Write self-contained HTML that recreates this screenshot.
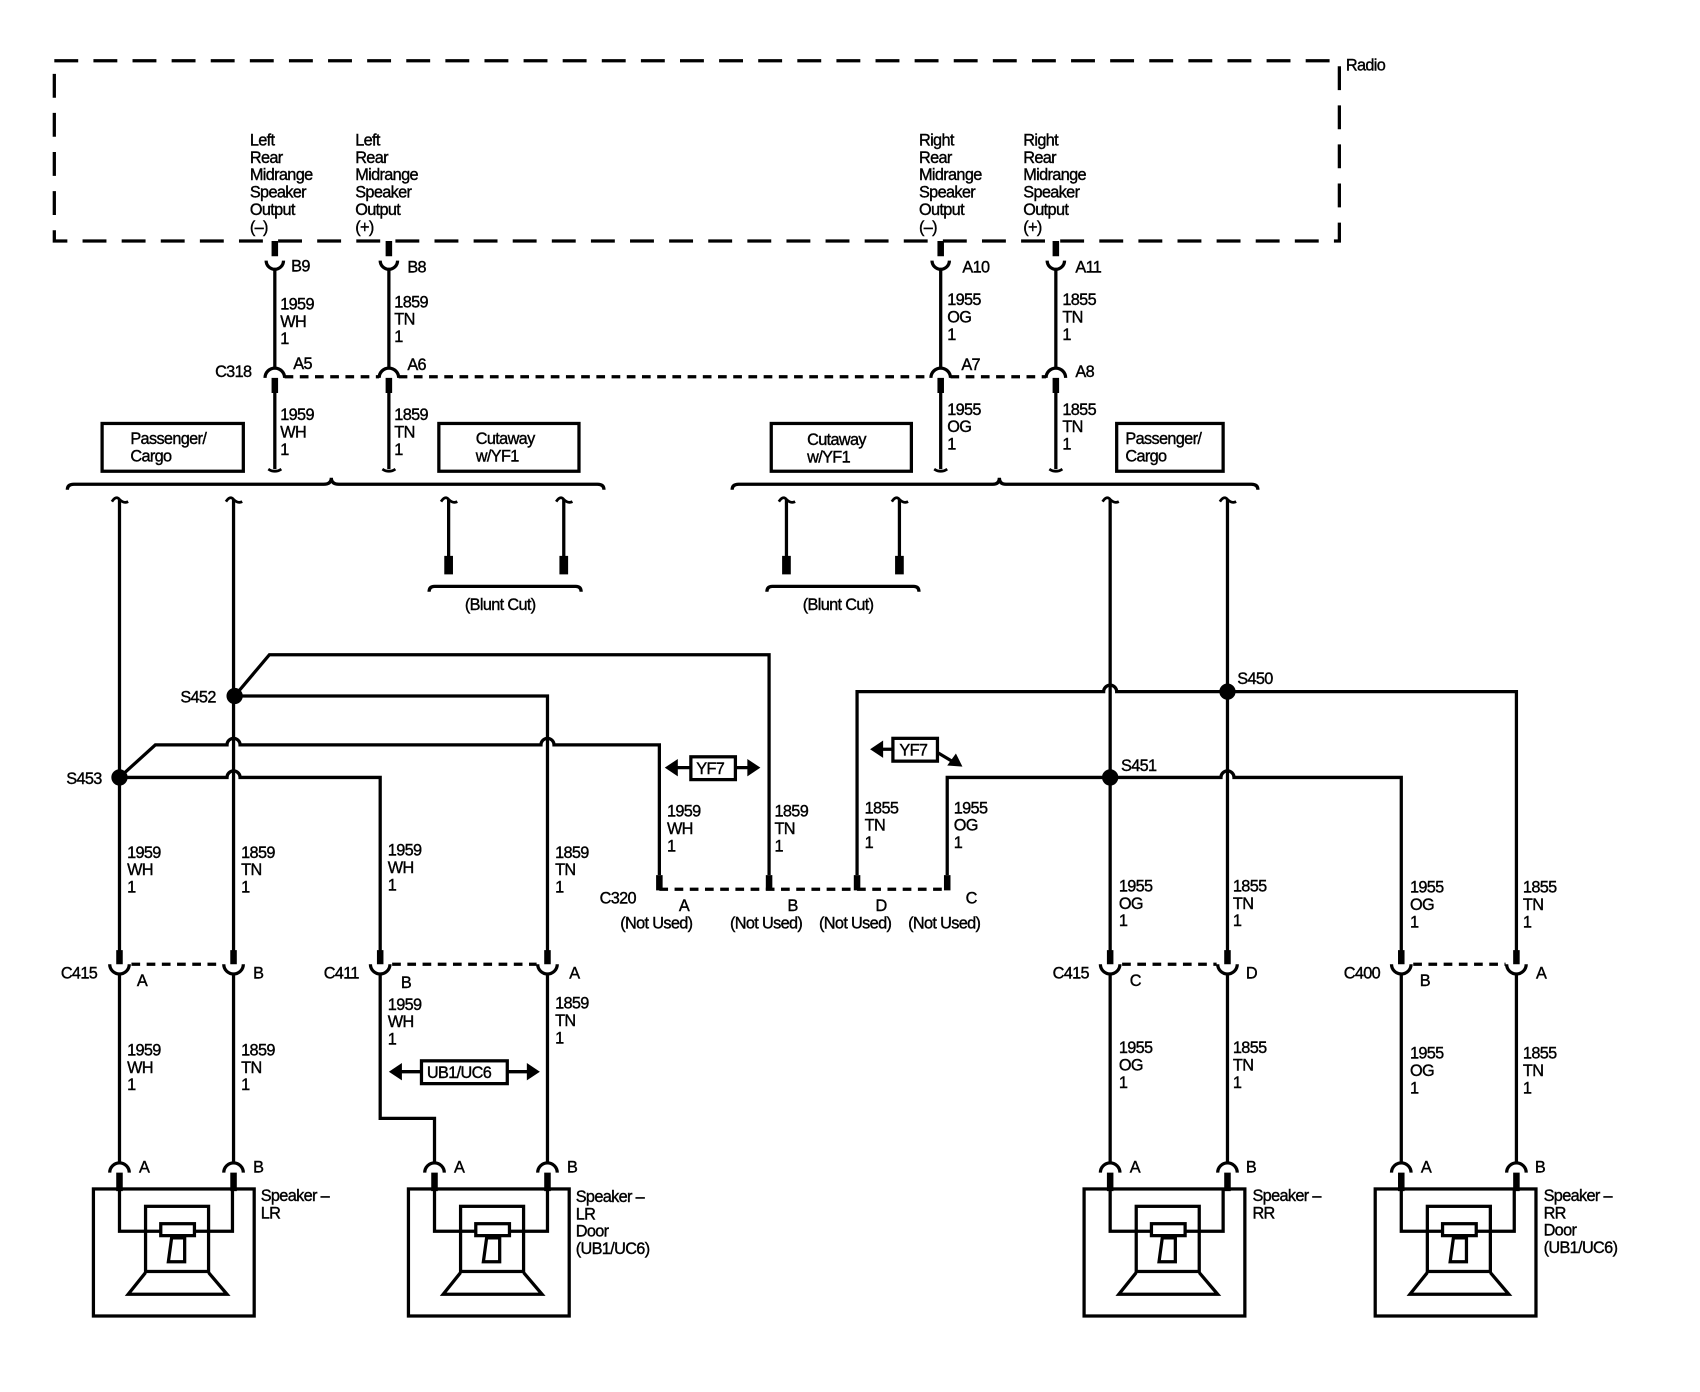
<!DOCTYPE html>
<html><head><meta charset="utf-8"><style>
html,body{margin:0;padding:0;background:#fff;}
svg{display:block;}
text{font-family:"Liberation Sans",Arial,sans-serif;font-size:15px;fill:#000;stroke:#000;stroke-width:0.35;letter-spacing:-0.6px;}
</style></head><body>
<svg width="1700" height="1392" viewBox="0 0 1565 1282" preserveAspectRatio="none" xmlns="http://www.w3.org/2000/svg">
<defs>
<g id="spk" fill="none" stroke="#000" stroke-width="3">
<rect x="0" y="0" width="148" height="117"/>
<path d="M24 0 V39 H128 V0" />
<rect x="48" y="16" width="58" height="60"/>
<rect x="62" y="32" width="31" height="11" fill="#fff"/>
<path d="M72 45 H84 V67 H69 Z"/>
<path d="M48 77 L32 97 H123 L106 77"/>
</g>
<marker id="ah" markerWidth="8" markerHeight="8" refX="4" refY="4" orient="auto"><path d="M0 0 L8 4 L0 8 Z" fill="#000"/></marker>
</defs>
<g fill="none" stroke="#000" stroke-width="3">
<!-- radio box -->
<rect x="50" y="56" width="1183" height="166" stroke-dasharray="22,14"/>
<!-- top pins -->
<g id="tp">
</g>
<path d="M253 222V236 M358 222V236 M866 222V236 M972 222V236" stroke-width="6"/>
<path d="M245 240 A8 8 0 0 0 261 240 M350 240 A8 8 0 0 0 366 240 M858 240 A8 8 0 0 0 874 240 M964 240 A8 8 0 0 0 980 240"/>
<path d="M253 248V339 M358 248V339 M866 248V339 M972 248V339"/>
<path d="M244 348 A9 9 0 0 1 262 348 M349 348 A9 9 0 0 1 367 348 M857 348 A9 9 0 0 1 875 348 M963 348 A9 9 0 0 1 981 348"/>
<path d="M253 348V362 M358 348V362 M866 348V362 M972 348V362" stroke-width="6"/>
<path d="M262 347H349 M367 347H857 M875 347H963" stroke-dasharray="8,6"/>
<path d="M253 362V432 M358 362V432 M866 362V432 M972 362V432"/>
<path d="M247 432 Q253 436 259 432 M352 432 Q358 436 364 432 M860 432 Q866 436 872 432 M966 432 Q972 436 978 432" stroke-width="2.5"/>
<!-- option boxes -->
<rect x="94" y="390" width="130" height="44"/>
<rect x="404" y="390" width="129" height="44"/>
<rect x="710" y="390" width="129" height="44"/>
<rect x="1028" y="390" width="98" height="44"/>
<!-- brackets -->
<path d="M62 451 Q62 446 68 446 H298 Q305 446 305 440 Q305 446 312 446 H550 Q556 446 556 451"/>
<path d="M674 451 Q674 446 680 446 H914 Q920 446 920 440 Q920 446 926 446 H1152 Q1158 446 1158 451"/>
<!-- tildes -->
<path d="M103 462 Q107 456 110 460 Q114 464 118 462 M208 462 Q212 456 215 460 Q219 464 223 462 M406 462 Q410 456 413 460 Q417 464 421 462 M512 462 Q516 456 519 460 Q523 464 527 462 M717 462 Q721 456 724 460 Q728 464 732 462 M821 462 Q825 456 828 460 Q832 464 836 462 M1015 462 Q1019 456 1022 460 Q1026 464 1030 462 M1123 462 Q1127 456 1130 460 Q1134 464 1138 462" stroke-width="2.5"/>
<!-- blunt cuts -->
<path d="M413 460V514 M519 460V514 M724 460V514 M828 460V514"/>
<path d="M413 512V529 M519 512V529 M724 512V529 M828 512V529" stroke-width="8"/>
<path d="M395 545 Q395 540 400 540 H530 Q535 540 535 545"/>
<path d="M706 545 Q706 540 711 540 H841 Q846 540 846 545"/>
<!-- left main wires -->
<path d="M110 460V877 M215 460V877"/>
<!-- S452 -->
<path d="M216 641 L248 603 H708 V806"/>
<path d="M216 641 H504 V877"/>
<!-- S453 -->
<path d="M110 716 L143 686 H209 A6 6 0 0 1 221 686 H498 A6 6 0 0 1 510 686 H607 V806"/>
<path d="M110 716 H209 A6 6 0 0 1 221 716 H350 V877"/>
<circle cx="216" cy="641" r="6" fill="#000"/>
<circle cx="110" cy="716" r="6" fill="#000"/>
<!-- right -->
<path d="M1022 460V877 M1130 460V877"/>
<path d="M789 806 V637 H1016 A6 6 0 0 1 1028 637 H1396 V877"/>
<path d="M872 806 V716 H1124 A6 6 0 0 1 1136 716 H1290 V877"/>
<circle cx="1130" cy="637" r="6" fill="#000"/>
<circle cx="1022" cy="716" r="6" fill="#000"/>
<!-- C320 -->
<path d="M607 806V820 M708 806V820 M789 806V820 M872 806V820" stroke-width="6"/>
<path d="M607 819H872" stroke-dasharray="8,6"/>
<!-- YF7 boxes -->
<rect x="636" y="697" width="41" height="21"/>
<path d="M636 707H618 M677 707H694"/>
<rect x="822" y="680" width="41" height="21"/>
<path d="M822 690H808 M863 693L878 702"/>
<!-- mid connectors -->
<path d="M110 875V888 M215 875V888 M350 875V888 M504 875V888 M1022 875V888 M1130 875V888 M1290 875V888 M1396 875V888" stroke-width="6"/>
<path d="M101 888 A9 9 0 0 0 119 888 M206 888 A9 9 0 0 0 224 888 M341 888 A9 9 0 0 0 359 888 M495 888 A9 9 0 0 0 513 888 M1013 888 A9 9 0 0 0 1031 888 M1121 888 A9 9 0 0 0 1139 888 M1281 888 A9 9 0 0 0 1299 888 M1387 888 A9 9 0 0 0 1405 888"/>
<path d="M121 888H205 M361 888H494 M1033 888H1120 M1301 888H1386" stroke-dasharray="8,6"/>
<path d="M110 897V1071 M215 897V1071 M350 897V1030 H400 V1071 M504 897V1071 M1022 897V1071 M1130 897V1071 M1290 897V1071 M1396 897V1071"/>
<!-- UB1 box -->
<rect x="388" y="977" width="79" height="21"/>
<path d="M388 987H368 M467 987H487"/>
<!-- speaker pins -->
<path d="M101 1080 A9 9 0 0 1 119 1080 M206 1080 A9 9 0 0 1 224 1080 M391 1080 A9 9 0 0 1 409 1080 M495 1080 A9 9 0 0 1 513 1080 M1013 1080 A9 9 0 0 1 1031 1080 M1121 1080 A9 9 0 0 1 1139 1080 M1281 1080 A9 9 0 0 1 1299 1080 M1387 1080 A9 9 0 0 1 1405 1080"/>
<path d="M110 1080V1097 M215 1080V1097 M400 1080V1097 M504 1080V1097 M1022 1080V1097 M1130 1080V1097 M1290 1080V1097 M1396 1080V1097" stroke-width="6"/>
</g>
<!-- arrowheads -->
<g fill="#000">
<path d="M612 707 L624 699 V715 Z"/><path d="M700 707 L688 699 V715 Z"/>
<path d="M801 690 L813 682 V698 Z"/><path d="M886 706 L872 705 L880 694 Z"/>
<path d="M358 987 L370 979 V995 Z"/><path d="M497 987 L485 979 V995 Z"/>
</g>
<use href="#spk" x="86" y="1095"/>
<use href="#spk" x="376" y="1095"/>
<use href="#spk" x="998" y="1095"/>
<use href="#spk" x="1266" y="1095"/>

<!-- TEXT -->
<text x="1239" y="65">Radio</text>
<text x="230" y="134"><tspan x="230">Left</tspan><tspan x="230" dy="16">Rear</tspan><tspan x="230" dy="16">Midrange</tspan><tspan x="230" dy="16">Speaker</tspan><tspan x="230" dy="16">Output</tspan><tspan x="230" dy="16">(–)</tspan></text>
<text x="327" y="134"><tspan x="327">Left</tspan><tspan x="327" dy="16">Rear</tspan><tspan x="327" dy="16">Midrange</tspan><tspan x="327" dy="16">Speaker</tspan><tspan x="327" dy="16">Output</tspan><tspan x="327" dy="16">(+)</tspan></text>
<text x="846" y="134"><tspan x="846">Right</tspan><tspan x="846" dy="16">Rear</tspan><tspan x="846" dy="16">Midrange</tspan><tspan x="846" dy="16">Speaker</tspan><tspan x="846" dy="16">Output</tspan><tspan x="846" dy="16">(–)</tspan></text>
<text x="942" y="134"><tspan x="942">Right</tspan><tspan x="942" dy="16">Rear</tspan><tspan x="942" dy="16">Midrange</tspan><tspan x="942" dy="16">Speaker</tspan><tspan x="942" dy="16">Output</tspan><tspan x="942" dy="16">(+)</tspan></text>
<text x="268" y="250">B9</text><text x="375" y="251">B8</text><text x="886" y="251">A10</text><text x="990" y="251">A11</text>
<text x="258" y="285"><tspan x="258">1959</tspan><tspan x="258" dy="16">WH</tspan><tspan x="258" dy="16">1</tspan></text>
<text x="363" y="283"><tspan x="363">1859</tspan><tspan x="363" dy="16">TN</tspan><tspan x="363" dy="16">1</tspan></text>
<text x="872" y="281"><tspan x="872">1955</tspan><tspan x="872" dy="16">OG</tspan><tspan x="872" dy="16">1</tspan></text>
<text x="978" y="281"><tspan x="978">1855</tspan><tspan x="978" dy="16">TN</tspan><tspan x="978" dy="16">1</tspan></text>
<text x="198" y="347">C318</text><text x="270" y="340">A5</text><text x="375" y="341">A6</text><text x="885" y="341">A7</text><text x="990" y="347">A8</text>
<text x="258" y="387"><tspan x="258">1959</tspan><tspan x="258" dy="16">WH</tspan><tspan x="258" dy="16">1</tspan></text>
<text x="363" y="387"><tspan x="363">1859</tspan><tspan x="363" dy="16">TN</tspan><tspan x="363" dy="16">1</tspan></text>
<text x="872" y="382"><tspan x="872">1955</tspan><tspan x="872" dy="16">OG</tspan><tspan x="872" dy="16">1</tspan></text>
<text x="978" y="382"><tspan x="978">1855</tspan><tspan x="978" dy="16">TN</tspan><tspan x="978" dy="16">1</tspan></text>
<text x="120" y="409"><tspan x="120">Passenger/</tspan><tspan x="120" dy="16">Cargo</tspan></text>
<text x="438" y="409"><tspan x="438">Cutaway</tspan><tspan x="438" dy="16">w/YF1</tspan></text>
<text x="743" y="410"><tspan x="743">Cutaway</tspan><tspan x="743" dy="16">w/YF1</tspan></text>
<text x="1036" y="409"><tspan x="1036">Passenger/</tspan><tspan x="1036" dy="16">Cargo</tspan></text>
<text x="428" y="562">(Blunt Cut)</text><text x="739" y="562">(Blunt Cut)</text>
<text x="166" y="647">S452</text><text x="61" y="722">S453</text><text x="1139" y="630">S450</text><text x="1032" y="710">S451</text>
<text x="641" y="713">YF7</text><text x="828" y="696">YF7</text>
<text x="117" y="790"><tspan x="117">1959</tspan><tspan x="117" dy="16">WH</tspan><tspan x="117" dy="16">1</tspan></text>
<text x="222" y="790"><tspan x="222">1859</tspan><tspan x="222" dy="16">TN</tspan><tspan x="222" dy="16">1</tspan></text>
<text x="357" y="788"><tspan x="357">1959</tspan><tspan x="357" dy="16">WH</tspan><tspan x="357" dy="16">1</tspan></text>
<text x="511" y="790"><tspan x="511">1859</tspan><tspan x="511" dy="16">TN</tspan><tspan x="511" dy="16">1</tspan></text>
<text x="614" y="752"><tspan x="614">1959</tspan><tspan x="614" dy="16">WH</tspan><tspan x="614" dy="16">1</tspan></text>
<text x="713" y="752"><tspan x="713">1859</tspan><tspan x="713" dy="16">TN</tspan><tspan x="713" dy="16">1</tspan></text>
<text x="796" y="749"><tspan x="796">1855</tspan><tspan x="796" dy="16">TN</tspan><tspan x="796" dy="16">1</tspan></text>
<text x="878" y="749"><tspan x="878">1955</tspan><tspan x="878" dy="16">OG</tspan><tspan x="878" dy="16">1</tspan></text>
<text x="552" y="832">C320</text><text x="625" y="839">A</text><text x="725" y="839">B</text><text x="806" y="839">D</text><text x="889" y="832">C</text>
<text x="571" y="855">(Not Used)</text><text x="672" y="855">(Not Used)</text><text x="754" y="855">(Not Used)</text><text x="836" y="855">(Not Used)</text>
<text x="1030" y="821"><tspan x="1030">1955</tspan><tspan x="1030" dy="16">OG</tspan><tspan x="1030" dy="16">1</tspan></text>
<text x="1135" y="821"><tspan x="1135">1855</tspan><tspan x="1135" dy="16">TN</tspan><tspan x="1135" dy="16">1</tspan></text>
<text x="1298" y="822"><tspan x="1298">1955</tspan><tspan x="1298" dy="16">OG</tspan><tspan x="1298" dy="16">1</tspan></text>
<text x="1402" y="822"><tspan x="1402">1855</tspan><tspan x="1402" dy="16">TN</tspan><tspan x="1402" dy="16">1</tspan></text>
<text x="56" y="901">C415</text><text x="126" y="908">A</text><text x="233" y="901">B</text>
<text x="298" y="901">C411</text><text x="369" y="910">B</text><text x="524" y="901">A</text>
<text x="969" y="901">C415</text><text x="1040" y="908">C</text><text x="1147" y="901">D</text>
<text x="1237" y="901">C400</text><text x="1307" y="908">B</text><text x="1414" y="901">A</text>
<text x="357" y="930"><tspan x="357">1959</tspan><tspan x="357" dy="16">WH</tspan><tspan x="357" dy="16">1</tspan></text>
<text x="511" y="929"><tspan x="511">1859</tspan><tspan x="511" dy="16">TN</tspan><tspan x="511" dy="16">1</tspan></text>
<text x="393" y="993">UB1/UC6</text>
<text x="117" y="972"><tspan x="117">1959</tspan><tspan x="117" dy="16">WH</tspan><tspan x="117" dy="16">1</tspan></text>
<text x="222" y="972"><tspan x="222">1859</tspan><tspan x="222" dy="16">TN</tspan><tspan x="222" dy="16">1</tspan></text>
<text x="1030" y="970"><tspan x="1030">1955</tspan><tspan x="1030" dy="16">OG</tspan><tspan x="1030" dy="16">1</tspan></text>
<text x="1135" y="970"><tspan x="1135">1855</tspan><tspan x="1135" dy="16">TN</tspan><tspan x="1135" dy="16">1</tspan></text>
<text x="1298" y="975"><tspan x="1298">1955</tspan><tspan x="1298" dy="16">OG</tspan><tspan x="1298" dy="16">1</tspan></text>
<text x="1402" y="975"><tspan x="1402">1855</tspan><tspan x="1402" dy="16">TN</tspan><tspan x="1402" dy="16">1</tspan></text>
<text x="128" y="1080">A</text><text x="233" y="1080">B</text><text x="418" y="1080">A</text><text x="522" y="1080">B</text>
<text x="1040" y="1080">A</text><text x="1147" y="1080">B</text><text x="1308" y="1080">A</text><text x="1413" y="1080">B</text>
<text x="240" y="1106"><tspan x="240">Speaker –</tspan><tspan x="240" dy="16">LR</tspan></text>
<text x="530" y="1107"><tspan x="530">Speaker –</tspan><tspan x="530" dy="16">LR</tspan><tspan x="530" dy="16">Door</tspan><tspan x="530" dy="16">(UB1/UC6)</tspan></text>
<text x="1153" y="1106"><tspan x="1153">Speaker –</tspan><tspan x="1153" dy="16">RR</tspan></text>
<text x="1421" y="1106"><tspan x="1421">Speaker –</tspan><tspan x="1421" dy="16">RR</tspan><tspan x="1421" dy="16">Door</tspan><tspan x="1421" dy="16">(UB1/UC6)</tspan></text>
</svg>
</body></html>
